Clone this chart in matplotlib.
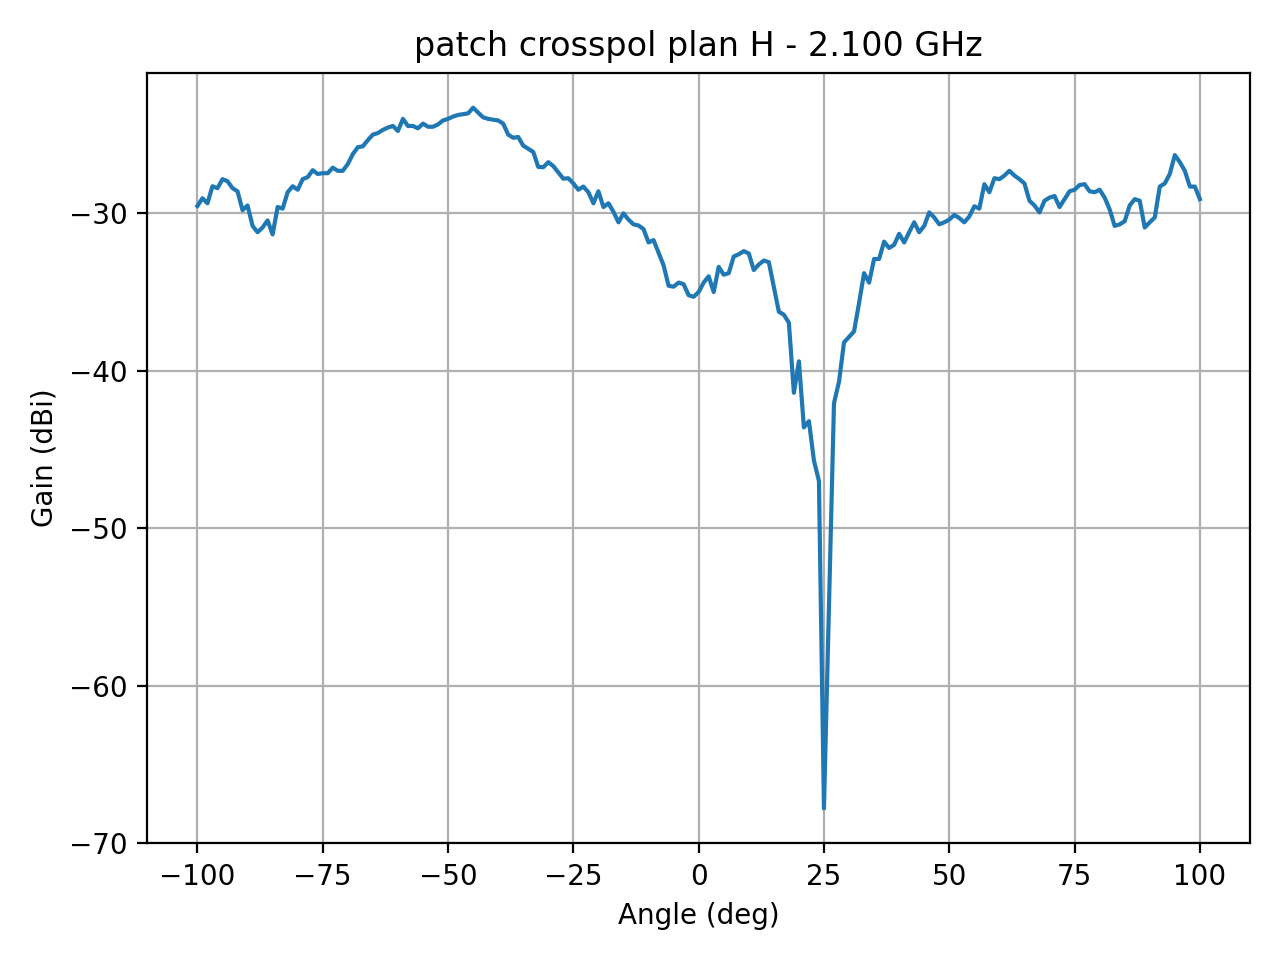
import numpy as np
import matplotlib
matplotlib.use("Agg")
import matplotlib.pyplot as plt

angles = np.arange(-100, 101, 1)
gain = [
    -29.53, -29.04, -29.36, -28.28, -28.40, -27.83, -27.96, -28.40, -28.60, -29.80,  # -100..-91
    -29.50, -30.80, -31.20, -30.90, -30.45, -31.34, -29.60, -29.70, -28.66, -28.28,  # -90..-81
    -28.50, -27.83, -27.70, -27.26, -27.50, -27.45, -27.45, -27.10, -27.30, -27.30,  # -80..-71
    -26.87, -26.24, -25.80, -25.74, -25.35, -25.00, -24.90, -24.70, -24.55, -24.45,  # -70..-61
    -24.77, -24.00, -24.45, -24.45, -24.60, -24.30, -24.50, -24.50, -24.35, -24.10,  # -60..-51
    -24.00, -23.85, -23.75, -23.70, -23.65, -23.29, -23.60, -23.90, -24.00, -24.05,  # -50..-41
    -24.10, -24.30, -25.00, -25.20, -25.15, -25.70, -25.90, -26.10, -27.05, -27.07,  # -40..-31
    -26.75, -27.00, -27.40, -27.80, -27.77, -28.10, -28.50, -28.30, -28.66, -29.36,  # -30..-21
    -28.60, -29.60, -29.36, -29.90, -30.57, -30.00, -30.40, -30.70, -30.77, -31.00,  # -20..-11
    -31.85, -31.70, -32.50, -33.30, -34.60, -34.66, -34.40, -34.50, -35.20, -35.30,  # -10..-1
    -35.00, -34.40, -34.00, -35.00, -33.40, -33.90, -33.80, -32.74, -32.60, -32.40,  # 0..9
    -32.55, -33.60, -33.25, -33.00, -33.10, -34.66, -36.25, -36.44, -36.95, -41.40,  # 10..19
    -39.40, -43.60, -43.20, -45.70, -47.00, -67.80, -55.00, -42.06, -40.70, -38.20,  # 20..29
    -37.85, -37.50, -35.70, -33.80, -34.40, -32.90, -32.90, -31.80, -32.20, -32.00,  # 30..39
    -31.30, -31.85, -31.20, -30.57, -31.20, -30.80, -29.94, -30.26, -30.70, -30.57,  # 40..49
    -30.40, -30.10, -30.30, -30.57, -30.20, -29.55, -29.70, -28.15, -28.66, -27.77,  # 50..59
    -27.83, -27.60, -27.30, -27.60, -27.83, -28.10, -29.20, -29.50, -29.94, -29.20,  # 60..69
    -29.00, -28.90, -29.60, -29.10, -28.60, -28.50, -28.20, -28.15, -28.60, -28.66,  # 70..79
    -28.50, -29.00, -29.75, -30.80, -30.70, -30.50, -29.50, -29.10, -29.20, -30.90,  # 80..89
    -30.57, -30.26, -28.30, -28.10, -27.50, -26.30, -26.75, -27.30, -28.30, -28.30,  # 90..99
    -29.10,  # 100
]

fig, ax = plt.subplots(figsize=(6.4, 4.8), dpi=200)
ax.plot(angles, gain)
ax.set_title("patch crosspol plan H - 2.100 GHz")
ax.set_xlabel("Angle (deg)")
ax.set_ylabel("Gain (dBi)")
ax.grid(True)
fig.tight_layout()
fig.savefig("out.png", dpi=200)
